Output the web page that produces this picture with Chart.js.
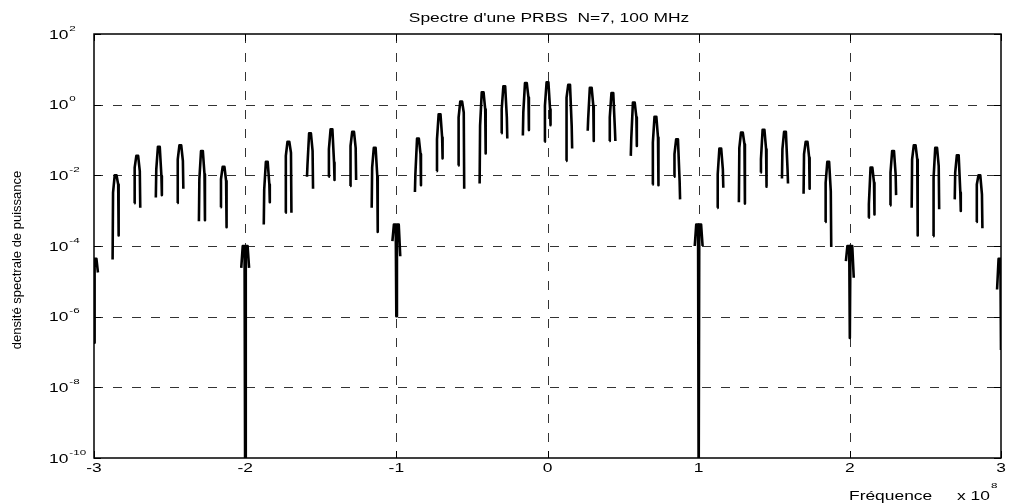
<!DOCTYPE html>
<html>
<head>
<meta charset="utf-8">
<title>Spectre PRBS</title>
<script src="https://cdn.jsdelivr.net/npm/chart.js@4.4.0/dist/chart.umd.min.js"></script>
<style>
  body { margin: 0; background: #fff; }
  canvas { display: block; }
</style>
</head>
<body>
<canvas id="spectre" width="1009" height="504"></canvas>
<script>
// Spectre d'une PRBS N=7, 100 MHz
// frequencies in units of 1e8 Hz, levels given as powers of ten

// spectral lines
const spikeFreq = [-2.857, -2.714, -2.571, -2.429, -2.286, -2.143,
  -1.857, -1.714, -1.571, -1.429, -1.286, -1.143,
  -0.857, -0.714, -0.571, -0.429, -0.286, -0.143, 0, 0.143, 0.286, 0.429, 0.571, 0.714, 0.857,
  1.143, 1.286, 1.429, 1.571, 1.714, 1.857,
  2.143, 2.286, 2.429, 2.571, 2.714, 2.857];
const peakExp = [-2.00, -1.45, -1.19, -1.15, -1.31, -1.76,
  -1.62, -1.05, -0.81, -0.70, -0.77, -1.22,
  -0.96, -0.27, 0.09, 0.35, 0.52, 0.61, 0.63, 0.56, 0.48, 0.33, 0.06, -0.34, -0.98,
  -1.24, -0.79, -0.71, -0.77, -1.05, -1.62,
  -1.78, -1.31, -1.15, -1.22, -1.43, -2.00];
const leftShoulderExp = [-2.49, -1.78, -1.83, -1.55, -2.11, -2.11,
  -2.40, -1.45, -1.72, -1.26, -1.17, -1.78,
  -1.97, -0.98, -0.36, -0.60, -0.13, -0.22, -0.03, 0.20, -0.41, -0.36, -0.98, -1.07, -1.40,
  -1.97, -1.22, -1.55, -1.26, -1.40, -2.21,
  -2.82, -1.92, -1.55, -2.07, -1.92, -2.26];
const rightShoulderExp = [-2.26, -1.88, -2.02, -1.59, -1.97, -2.16,
  -2.26, -1.36, -1.31, -1.64, -1.22, -2.02,
  -1.40, -0.93, -0.22, -0.13, -0.36, 0.20, -0.13, -0.60, -0.03, -0.70, -0.36, -0.93, -2.16,
  -1.83, -1.12, -1.26, -1.83, -1.50, -2.45,
  -2.21, -1.97, -1.55, -1.74, -2.49, -2.54];
const leftBaseExp = [-4.38, -2.79, -2.63, -2.78, -3.30, -2.90,
  -3.39, -3.06, -2.04, -2.04, -2.30, -2.92,
  -2.47, -1.88, -1.72, -2.23, -0.81, -0.87, -1.05, -1.59, -0.74, -1.03, -1.45, -2.26, -2.04,
  -2.92, -2.76, -1.92, -2.09, -2.52, -3.32,
  -3.20, -2.85, -2.92, -3.72, -2.68, -3.32];
const rightBaseExp = [-3.70, -2.92, -2.56, -2.38, -3.27, -3.47,
  -2.76, -3.06, -2.38, -2.13, -2.13, -3.60,
  -2.28, -1.52, -2.38, -1.38, -0.96, -0.72, -0.58, -1.24, -1.03, -1.03, -1.17, -2.28, -2.68,
  -2.35, -2.80, -2.32, -2.23, -2.38, -4.03,
  -3.11, -2.56, -3.70, -2.96, -3.01, -3.50];

// the nulls of the sinc envelope (multiples of the bit rate)
const nullFreq = [-3, -2, -1, 1, 2, 3];
const nullTopExp = [-4.36, -4.00, -3.39, -3.39, -4.00, -4.36];
const nullLeftExp = [-4.75, -4.62, -3.86, -4.00, -4.43, -5.23];
const nullRightExp = [-4.75, -4.62, -4.29, -4.00, -4.90, -5.23];
const nullDipExp = [-6.74, -11, -5.99, -11, -6.60, -6.94];

// axes
const xTicks = [-3, -2, -1, 0, 1, 2, 3];
const yTickExp = [-10, -8, -6, -4, -2, 0, 2];

const FONT = '"Liberation Sans", Arial, Helvetica, sans-serif';
const STRETCH = 1.45; // the original figure is stretched sideways

// build the trace: one small shape per line, broken by gaps
const features = [];
spikeFreq.forEach((f, i) => {
  features.push({ f, pts: [
    [f - 0.020, leftBaseExp[i]],
    [f - 0.017, leftShoulderExp[i]],
    [f - 0.006, peakExp[i]],
    [f + 0.006, peakExp[i]],
    [f + 0.017, rightShoulderExp[i]],
    [f + 0.020, rightBaseExp[i]]
  ] });
});
nullFreq.forEach((f, i) => {
  features.push({ f, pts: [
    [f - 0.026, nullLeftExp[i]],
    [f - 0.016, nullTopExp[i]],
    [f - 0.004, nullTopExp[i]],
    [f, nullDipExp[i]],
    [f + 0.004, nullTopExp[i]],
    [f + 0.016, nullTopExp[i]],
    [f + 0.026, nullRightExp[i]]
  ] });
});
features.sort((a, b) => a.f - b.f);

const trace = [];
features.forEach(ft => {
  ft.pts.forEach(p => trace.push({ x: p[0], y: Math.pow(10, p[1]) }));
  trace.push({ x: ft.f + 0.05, y: null });
});

function stretchedText(ctx, text, x, y, size, align, sx) {
  const s = sx || STRETCH;
  ctx.save();
  ctx.font = size + 'px ' + FONT;
  const w = ctx.measureText(text).width * s;
  let x0 = x;
  if (align === 'center') x0 = x - w / 2;
  else if (align === 'right') x0 = x - w;
  ctx.translate(x0, y);
  ctx.scale(s, 1);
  ctx.textAlign = 'left';
  ctx.textBaseline = 'alphabetic';
  ctx.fillStyle = '#000';
  ctx.fillText(text, 0, 0);
  ctx.restore();
  return w;
}

const matlabAxes = {
  id: 'matlabAxes',
  beforeDatasetsDraw(chart) {
    const { ctx, chartArea: a, scales: { x, y } } = chart;
    ctx.save();
    ctx.strokeStyle = '#333';
    ctx.lineWidth = 1;
    ctx.setLineDash([9, 10]);
    xTicks.slice(1, -1).forEach(v => {
      const px = Math.round(x.getPixelForValue(v)) + 0.5;
      ctx.beginPath(); ctx.moveTo(px, a.top); ctx.lineTo(px, a.bottom); ctx.stroke();
    });
    yTickExp.slice(1, -1).forEach(e => {
      const py = Math.round(y.getPixelForValue(Math.pow(10, e))) + 0.5;
      ctx.beginPath(); ctx.moveTo(a.left, py); ctx.lineTo(a.right, py); ctx.stroke();
    });
    ctx.restore();
  },
  afterDraw(chart) {
    const { ctx, chartArea: a, scales: { x, y } } = chart;
    ctx.save();
    // box and inner tick marks
    ctx.strokeStyle = '#000';
    ctx.lineWidth = 1.5;
    ctx.strokeRect(a.left, a.top, a.right - a.left, a.bottom - a.top);
    ctx.lineWidth = 1;
    xTicks.forEach(v => {
      const px = Math.round(x.getPixelForValue(v)) + 0.5;
      ctx.beginPath();
      ctx.moveTo(px, a.bottom); ctx.lineTo(px, a.bottom - 7);
      ctx.moveTo(px, a.top); ctx.lineTo(px, a.top + 7);
      ctx.stroke();
    });
    yTickExp.forEach(e => {
      const py = Math.round(y.getPixelForValue(Math.pow(10, e))) + 0.5;
      ctx.beginPath();
      ctx.moveTo(a.left, py); ctx.lineTo(a.left + 7, py);
      ctx.moveTo(a.right, py); ctx.lineTo(a.right - 7, py);
      ctx.stroke();
    });

    // y tick labels 10^n
    yTickExp.forEach(e => {
      const py = y.getPixelForValue(Math.pow(10, e));
      const w = stretchedText(ctx, '10', 49, py + 4.5, 12, 'left');
      stretchedText(ctx, String(e), 49 + w + 1, py - 3.5, 8, 'left');
    });
    // x tick labels
    xTicks.forEach(v => {
      stretchedText(ctx, String(v), x.getPixelForValue(v), a.bottom + 14, 12, 'center');
    });

    // title and axis labels
    stretchedText(ctx, "Spectre d'une PRBS  N=7, 100 MHz", 549, 22, 12, 'center');
    stretchedText(ctx, 'Fréquence', 849, 500, 12, 'left');
    const wx = stretchedText(ctx, 'x 10', 957, 500, 12, 'left');
    stretchedText(ctx, '8', 957 + wx + 1, 488, 8, 'left');

    ctx.font = '13px ' + FONT;
    ctx.fillStyle = '#000';
    ctx.translate(20.5, 260);
    ctx.rotate(-Math.PI / 2);
    ctx.textAlign = 'center';
    ctx.textBaseline = 'alphabetic';
    ctx.fillText('densité spectrale de puissance', 0, 0);
    ctx.restore();
  }
};

new Chart(document.getElementById('spectre'), {
  type: 'line',
  data: {
    datasets: [{
      data: trace,
      borderColor: '#000',
      borderWidth: 2.6,
      borderJoinStyle: 'round',
      pointRadius: 0,
      tension: 0,
      spanGaps: false,
      fill: false,
      clip: 0
    }]
  },
  options: {
    responsive: false,
    animation: false,
    events: [],
    layout: { padding: { left: 94, right: 8, top: 34, bottom: 46 } },
    plugins: { legend: { display: false }, tooltip: { enabled: false } },
    scales: {
      x: { type: 'linear', min: -3, max: 3, display: false },
      y: { type: 'logarithmic', min: 1e-10, max: 1e2, display: false }
    }
  },
  plugins: [matlabAxes]
});
</script>
</body>
</html>
